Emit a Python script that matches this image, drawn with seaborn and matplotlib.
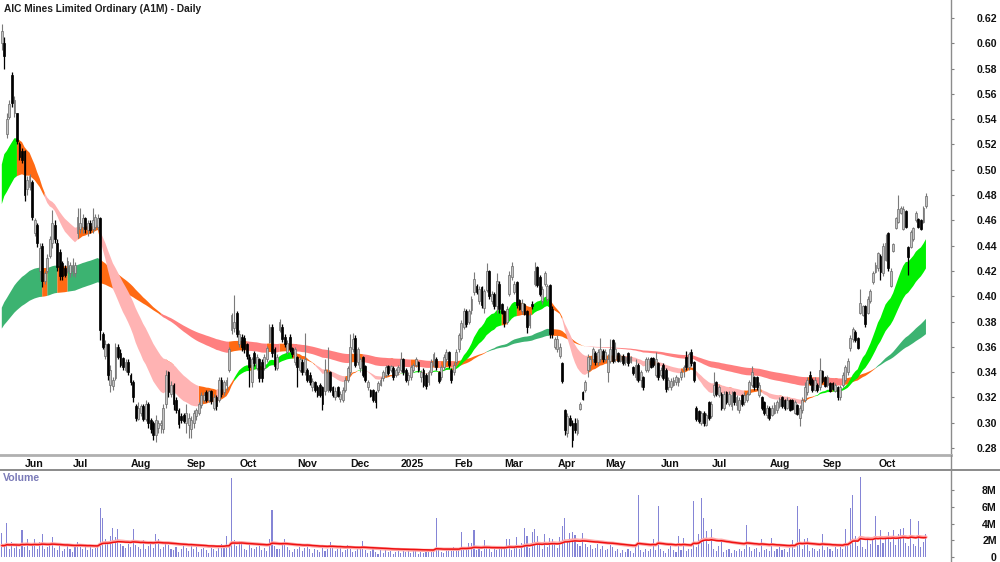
import numpy as np
import pandas as pd
import matplotlib
matplotlib.use("Agg")
import matplotlib.pyplot as plt
from matplotlib.lines import Line2D
import matplotlib.transforms as mtrans
import seaborn as sns

# ---------------- data (prices in cents, volume in 0.1M units) ----------------
TITLE = "AIC Mines Limited Ordinary (A1M) - Daily"
start_date = "2024-05-22"
asx_holidays = ["2024-06-10", "2024-12-25", "2024-12-26", "2025-01-01", "2025-01-27",
                "2025-04-18", "2025-04-21", "2025-04-25", "2025-06-09"]

open_c = [
    60, 60, 52.8, 54.2, 57.5, 54.5, 54.5, 52, 51.5, 51.5,
    48.5, 48.6, 49, 45, 45.6, 42, 44, 41.2, 42, 43.2,
    44.2, 45.6, 44.2, 43.5, 42.6, 42.2, 42, 41.8, 42, 41.8,
    45, 45.3, 45.5, 46.2, 45.2, 45.8, 45.3, 45.5, 45.5, 46.2,
    37, 35.3, 36.2, 33, 32.9, 33.5, 36, 35.5, 35.1, 34.2,
    34.8, 33.8, 33.2, 31.3, 30.3, 30.8, 31.3, 30.3, 31.5, 30.2,
    30, 29, 29.6, 29.8, 29.5, 31.5, 34, 32.3, 33, 31.8,
    31, 30.5, 30.6, 30, 29.8, 29.5, 30, 30.5, 30.8, 31.4,
    31.8, 32.4, 31.8, 32.5, 31.2, 32, 31.8, 33.4, 32.4, 33,
    34.2, 37.3, 37.5, 38.7, 36.2, 36.8, 36.7, 36.2, 35.2, 33.2,
    35.5, 34.3, 35, 34.8, 34.3, 35, 36.4, 37.6, 35.8, 34.3,
    37.3, 37.6, 36.8, 35.6, 36.8, 35.9, 34.8, 35.2, 34.2, 34.8,
    34, 34.2, 33.8, 32.8, 33.2, 32.8, 33, 32.8, 32.5, 32.6,
    34, 32.8, 32, 32.8, 31.9, 31.8, 32.6, 33.4, 34, 35.8,
    36.7, 34.8, 34.3, 35.2, 34.5, 32.8, 32.6, 32.6, 32.4, 32.6,
    33, 33.5, 33.8, 34.5, 34.2, 34.3, 33.8, 34, 34.2, 35,
    34.2, 33.4, 33.6, 34.2, 34.6, 34.8, 33.6, 34.2, 33.8, 33.2,
    34, 34.6, 35, 34, 33.6, 34.4, 35, 35.6, 34.2, 34,
    34.8, 35.8, 36.7, 37.6, 38.8, 38, 38.9, 40.3, 40.8, 39.6,
    40.7, 39.1, 40.5, 42, 39.6, 40.2, 39.2, 41, 39.4, 38.8,
    38, 40.2, 41.5, 40.3, 41.1, 39.7, 38.8, 39.4, 38.8, 37.7,
    39.4, 41, 42.3, 41.5, 39.6, 41, 39.8, 40.9, 39, 36,
    35.8, 35.3, 34.7, 31, 29.2, 30.4, 30, 30, 29.2, 31.1,
    32.4, 32.6, 34.2, 34.6, 35, 35.5, 34.8, 35, 35.7, 35,
    34, 34.9, 36.5, 35, 35.5, 34.9, 35.3, 34.8, 35.5, 34.8,
    34.4, 33.6, 34.6, 33.4, 33.6, 34.2, 34.2, 35.1, 35.1, 33.8,
    34.7, 33.8, 34.6, 34.2, 32.8, 32.8, 33, 33.2, 33.2, 33.6,
    34.2, 35.2, 34.4, 35.6, 34.8, 31.2, 30.9, 30, 30.8, 29.8,
    31.6, 30.5, 32.2, 33.2, 32.2, 32.3, 31.2, 32.4, 31.5, 31.3,
    32.4, 31.4, 31, 32.2, 31.6, 31.8, 32.3, 33, 33.6, 33.6,
    32.2, 32, 31.6, 30.6, 31.2, 30.6, 30.8, 31, 31.3, 32,
    31.8, 31.2, 31.8, 31.8, 30.8, 31.4, 30.4, 31, 31.8, 32.4,
    33.8, 33.4, 32.6, 33, 32.8, 34.1, 33.6, 33, 33.1, 33.1,
    32.5, 32.8, 32, 33, 33.4, 34, 35.9, 36.6, 37.2, 36.7,
    38.7, 38.5, 39.2, 38.7, 39.6, 41.1, 41.9, 42.2, 43.2, 41.8,
    42.9, 45, 40.8, 43.6, 45.4, 45.9, 46.6, 45.3, 46.7, 43.9,
    43.9, 44.5, 46, 46.1, 46, 45.9, 47.1,
]
high_c = [
    61.5, 60.5, 54.5, 55.5, 57.7, 55.8, 54.5, 52.2, 51.7, 51.6,
    49.5, 49.7, 49.2, 46.2, 45.8, 44.2, 44.2, 42, 43.3, 44.8,
    46.8, 46, 44.5, 43.7, 42.8, 42.5, 43.1, 42.7, 43, 42.7,
    47, 47, 46.5, 46.3, 46, 46, 47, 46.5, 46.5, 46.3,
    37.2, 36.5, 36.3, 34.6, 33.6, 36.3, 36.2, 35.8, 35.2, 35,
    35, 33.9, 33.4, 31.5, 31.6, 31.5, 31.5, 31.8, 31.6, 30.4,
    30.1, 30.6, 30.2, 30.2, 31.5, 34.2, 34.1, 33.3, 33.1, 32,
    31.2, 30.8, 30.8, 31.5, 30.8, 30.5, 31, 31.2, 31.6, 32.4,
    32.4, 32.6, 32.6, 32.6, 32.3, 32.2, 33.6, 33.6, 33.4, 33.6,
    36, 38.7, 40.1, 38.8, 37.3, 37, 36.9, 36.3, 35.4, 35.2,
    35.7, 35.4, 35.1, 35, 35.4, 36.1, 37.8, 37.8, 36, 35.4,
    38.2, 37.8, 37, 36.5, 37, 36, 36, 35.3, 35.2, 35,
    37.1, 34.3, 34, 33.5, 33.3, 33, 33.1, 32.9, 35, 36,
    34.1, 32.9, 32.8, 32.9, 32.5, 32.8, 33.6, 34.5, 37, 37.1,
    36.9, 36, 35.2, 35.3, 34.6, 33.4, 32.7, 32.7, 32.5, 33.3,
    33.6, 34.2, 34.6, 34.6, 34.6, 34.5, 34.3, 34.6, 35.6, 35.1,
    34.3, 34, 34.6, 34.7, 35.2, 34.9, 34.2, 34.3, 33.9, 34.2,
    35, 35.6, 35.2, 34.1, 34.6, 35.4, 35.8, 35.7, 34.3, 34.8,
    35.8, 37.1, 38.1, 39.1, 39, 39, 40, 41.9, 41, 40.8,
    40.8, 40.6, 42.6, 42.1, 40.4, 40.3, 41.8, 41.2, 39.5, 38.9,
    39.2, 42, 42.7, 41.2, 41.2, 39.8, 39.8, 39.5, 38.9, 38.7,
    39.6, 42.7, 42.4, 41.7, 40.8, 42, 41, 41, 39.2, 36.8,
    36.9, 36.3, 34.8, 31.1, 30.8, 30.6, 30.2, 30.4, 30.4, 31.6,
    32.5, 33.4, 35.4, 35.3, 36, 35.7, 35.8, 36.7, 35.8, 35.8,
    35.4, 36.6, 36.6, 36.4, 35.6, 35.4, 35.4, 35.3, 35.6, 35.3,
    34.5, 35, 34.7, 34.2, 33.7, 35.2, 35.2, 35.2, 35.2, 35.6,
    34.8, 34.4, 34.7, 34.3, 33.6, 33.5, 33.6, 33.8, 33.6, 34.2,
    34.6, 35.7, 35.6, 35.8, 34.9, 31.3, 31, 30.9, 30.9, 30.8,
    31.7, 31.7, 34, 33.3, 33, 32.4, 32.5, 32.5, 32.5, 32.5,
    32.5, 32.2, 32, 32.3, 32.4, 32.4, 33.4, 34.5, 33.7, 33.7,
    33.2, 32.1, 31.7, 31.4, 31.3, 31.4, 31.6, 31.8, 32, 32.1,
    31.9, 32, 31.9, 31.9, 31.8, 31.5, 31.4, 32, 33.2, 33.6,
    34.1, 33.5, 33.6, 33.1, 35.1, 34.2, 33.7, 33.8, 33.2, 33.2,
    33.1, 32.9, 33, 34, 34.6, 35.1, 36.9, 37.6, 37.3, 36.8,
    40.6, 39.3, 39.3, 40, 40.6, 42, 42.7, 43.5, 43.3, 44.2,
    44.9, 45.1, 42.2, 44.2, 46.3, 48, 47.1, 47.1, 46.8, 44,
    45.2, 45.5, 46.7, 46.2, 46.1, 47.1, 48.2,
]
low_c = [
    59.5, 58, 52.5, 54, 55, 54.2, 52, 50.8, 50.5, 47.5,
    48, 48.4, 46, 44.8, 43.9, 41.3, 40.7, 41, 41.8, 43,
    43.8, 44.2, 42, 41.3, 41.3, 41.5, 41.8, 41.5, 41.6, 41.5,
    44.6, 45, 45, 45, 44.8, 45, 45, 45.2, 45.2, 36.5,
    35.8, 35, 33.4, 32.4, 32.6, 33.4, 35, 34.4, 34.2, 34,
    33.8, 33, 31.6, 30.1, 30.2, 30.5, 30.1, 30.1, 29.6, 29.2,
    28.6, 28.5, 29.2, 29.2, 29.2, 31.2, 32, 32, 31, 30.8,
    29.6, 30, 30, 29.2, 28.8, 28.8, 29.6, 30.2, 30.6, 31.2,
    31.6, 31.6, 31.6, 31.5, 31, 31, 31.6, 32, 32.2, 32.6,
    34, 37, 37.2, 36.8, 36, 35.7, 35.5, 35, 32.8, 32.8,
    34.5, 34.2, 33.2, 33.2, 34.2, 34.8, 36.3, 35.2, 34.2, 34.2,
    37.2, 36.4, 36, 35.4, 35.6, 35.2, 34.6, 32.8, 34, 33.8,
    33.8, 33.2, 33, 32.5, 32.4, 32, 32, 31, 32.2, 32.4,
    32.4, 32, 31.8, 32, 31.6, 31.6, 32.4, 33.2, 33.8, 35.6,
    34.4, 34.6, 34, 33.6, 33.2, 32.6, 32, 31.6, 31.2, 32.4,
    32.9, 33.3, 33.6, 33.8, 34, 33.4, 33.6, 33.8, 34, 33.8,
    33.2, 33, 33.4, 34, 34.4, 34, 33.2, 32.8, 32.7, 33,
    33.8, 34.4, 34.2, 33.1, 33.4, 34.2, 34.8, 34.3, 33.1, 33.8,
    34.6, 35.6, 36.5, 37.4, 37.6, 37.8, 38.6, 40.1, 40.2, 39.4,
    39.1, 38.7, 40.3, 39.8, 39.4, 39, 38.7, 38.7, 38.6, 37.6,
    37.8, 40, 41.3, 40.2, 39.1, 38.9, 38.6, 38.5, 37.1, 37.5,
    39, 40.8, 40.7, 40, 39.4, 40.8, 39.6, 36.7, 36.7, 35.8,
    35.6, 35.1, 33.1, 29, 28.9, 29.7, 28.1, 29.2, 29, 31,
    31.8, 32.4, 33.6, 34.2, 34.8, 34.6, 34.6, 34.8, 34.8, 34.9,
    33.2, 34.7, 34.7, 34.8, 34.8, 34.8, 34.6, 34.6, 34.5, 34.7,
    33.8, 33.4, 33.2, 32.8, 32.6, 34, 34, 34.3, 34.4, 33.6,
    33.4, 33.6, 33.4, 32.4, 32.6, 32.6, 32.9, 33, 32.9, 33.4,
    33.6, 34.2, 34.2, 34.5, 33.2, 30.1, 30, 29.8, 29.7, 29.7,
    30.2, 30.4, 32, 32.1, 32, 31, 31, 31.5, 31.3, 31,
    31.4, 31, 30.8, 31.3, 31.4, 31.6, 32.2, 32.8, 32.6, 32.6,
    32, 31, 30.6, 30.4, 30.2, 30.5, 30.7, 30.8, 31.2, 31.2,
    31, 31.1, 30.9, 31, 30.7, 30.6, 29.7, 30.8, 31.6, 32.2,
    33, 32.4, 32.5, 32.4, 32.6, 33.1, 32.8, 32.8, 32.4, 32.6,
    32.4, 31.8, 31.8, 32.8, 33.2, 33.8, 35.7, 36.4, 36.4, 35.8,
    38.6, 38.4, 37.6, 38.6, 39.5, 41, 41.8, 42, 41.3, 41.6,
    42.8, 42, 40.7, 43.5, 45.3, 45.8, 46.5, 45.2, 45.4, 41.7,
    43.8, 44.4, 45.9, 45.4, 45.2, 45.8, 47,
]
close_c = [
    61, 59, 54, 55.2, 55.3, 55.5, 52.3, 51, 50.8, 48,
    49.2, 49.5, 46.3, 46, 44.2, 43.8, 41.2, 41.8, 43, 44.5,
    45.8, 44.5, 42.3, 41.6, 41.6, 41.7, 42.8, 42.5, 42.5, 42.5,
    46.3, 45.8, 46.2, 45.3, 45.8, 45.2, 46, 46.3, 46.2, 37.3,
    36, 36.2, 33.8, 34.2, 33.4, 36, 35.2, 34.6, 34.4, 34.8,
    34, 33.2, 32, 30.4, 31.2, 31.3, 30.3, 31.5, 30, 29.5,
    29, 30.2, 30, 30, 31.2, 33.8, 32.4, 33, 31.5, 31,
    29.9, 30.2, 30.1, 30.8, 30.4, 30.2, 30.8, 31, 31.5, 32.2,
    32.2, 31.8, 32.5, 31.7, 32, 31.3, 33.4, 32.3, 33.2, 33.4,
    35.8, 38.5, 38, 37, 37, 36, 35.8, 35.3, 34.4, 35,
    34.7, 35.2, 33.5, 33.5, 35.2, 35.9, 37.6, 35.5, 34.5, 35.2,
    38, 36.6, 36.2, 36.3, 35.8, 35.4, 35.8, 34.4, 35, 34,
    35, 33.4, 33.2, 33.3, 32.6, 32.2, 32.2, 31.5, 34.2, 34,
    32.6, 32.2, 32.5, 32.1, 32.3, 32.6, 33.4, 34.3, 36, 36.6,
    34.6, 35.8, 35, 33.8, 33.4, 33.2, 32.1, 31.8, 31.6, 33.1,
    33.4, 34, 34.4, 33.9, 34.5, 33.6, 34.2, 34.4, 35, 34,
    33.4, 33.8, 34.4, 34.6, 35, 34.2, 34, 33, 32.9, 34,
    34.8, 35.4, 34.4, 33.3, 34.4, 35.2, 35.6, 34.6, 33.4, 34.6,
    35.6, 36.9, 37.9, 38.8, 37.8, 38.8, 39.8, 41.4, 40.3, 40.6,
    39.3, 40.4, 42, 40, 40.2, 39.2, 41.2, 39, 38.7, 37.9,
    39, 41.7, 42.4, 41, 39.3, 39, 39.5, 38.6, 37.6, 38.5,
    39.2, 42, 40.9, 40.2, 40.6, 41.8, 40.8, 37, 37, 36.6,
    36.6, 36, 33.3, 29.4, 30.5, 29.8, 28.6, 29.4, 30.2, 31.5,
    31.9, 33.2, 35.2, 35, 35.8, 34.8, 35.6, 35.8, 35, 35.6,
    35, 35.8, 34.9, 35.8, 34.9, 35.3, 34.7, 35.2, 34.7, 35.2,
    33.9, 34.6, 33.4, 34, 32.8, 35, 35, 34.4, 34.6, 35,
    33.6, 34.2, 33.5, 32.7, 33.4, 33.3, 33.4, 33.6, 33.5, 34,
    34.4, 34.4, 35.4, 34.7, 33.4, 30.3, 30.1, 30.8, 30, 30.6,
    30.4, 31.5, 33, 32.3, 32.8, 31.2, 32.3, 31.6, 32.3, 32.2,
    31.6, 32, 31.8, 31.5, 32.2, 32.3, 33.2, 34, 32.8, 32.8,
    33, 31.2, 30.8, 31.2, 30.4, 31.2, 31.4, 31.6, 31.9, 31.3,
    31.2, 31.8, 31, 31.1, 31.6, 30.7, 31.2, 31.8, 32.8, 33.4,
    33.1, 32.6, 33.4, 32.6, 34.2, 33.3, 32.9, 33.6, 32.5, 32.7,
    33, 32, 32.8, 33.8, 34.4, 34.9, 36.7, 37.4, 36.5, 35.9,
    39.5, 39.2, 37.8, 39.8, 40.4, 41.8, 42.5, 43.4, 41.9, 44,
    44.2, 42.2, 42, 44.1, 46.2, 46.9, 47, 46.9, 45.5, 43.1,
    45.1, 45.4, 46.6, 45.5, 45.3, 47, 47.9,
]
volume_tenth_m = [
    29, 12, 41, 9, 18, 11, 14, 10, 32, 12,
    21, 8, 13, 22, 10, 18, 27, 9, 12, 16,
    24, 11, 8, 13, 7, 10, 14, 9, 6, 12,
    18, 15, 10, 12, 8, 14, 9, 11, 13, 58,
    46, 21, 17, 25, 35, 24, 33, 15, 13, 11,
    16, 12, 33, 14, 12, 10, 20, 9, 13, 19,
    11, 27, 22, 9, 12, 16, 14, 10, 8, 12,
    6, 9, 14, 11, 7, 15, 10, 12, 6, 9,
    11, 8, 5, 13, 10, 7, 12, 15, 11, 25,
    14, 94, 20, 13, 19, 19, 10, 8, 14, 11,
    9, 12, 13, 8, 11, 7, 21, 56, 13, 10,
    9, 16, 21, 12, 8, 6, 10, 9, 12, 7,
    11, 16, 9, 5, 10, 8, 6, 12, 7, 10,
    18, 11, 7, 9, 12, 6, 8, 14, 10, 6,
    7, 9, 11, 19, 8, 5, 7, 10, 6, 4,
    8, 5, 9, 6, 7, 4, 6, 9, 5, 7,
    6, 8, 5, 10, 7, 4, 6, 5, 8, 9,
    6, 7, 47, 8, 6, 5, 9, 10, 7, 12,
    9, 8, 30, 11, 9, 17, 17, 32, 8, 10,
    7, 20, 12, 9, 6, 11, 8, 13, 9, 10,
    22, 22, 8, 12, 24, 10, 17, 35, 25, 11,
    30, 34, 25, 14, 9, 27, 12, 23, 21, 15,
    11, 24, 37, 47, 20, 29, 30, 26, 15, 13,
    29, 16, 12, 14, 9, 11, 15, 10, 13, 8,
    9, 14, 12, 7, 10, 5, 8, 6, 9, 7,
    5, 13, 74, 8, 6, 9, 7, 10, 21, 8,
    61, 10, 7, 5, 9, 14, 8, 6, 25, 8,
    23, 7, 10, 9, 67, 12, 27, 71, 46, 31,
    15, 34, 9, 7, 13, 21, 6, 8, 10, 5,
    8, 7, 10, 7, 9, 38, 12, 7, 9, 11,
    6, 22, 8, 10, 7, 23, 7, 9, 12, 8,
    10, 6, 11, 20, 9, 61, 34, 10, 21, 23,
    7, 11, 9, 7, 10, 27, 8, 12, 10, 7,
    12, 9, 14, 10, 34, 16, 59, 74, 25, 13,
    95, 12, 10, 24, 16, 23, 49, 14, 32, 17,
    25, 30, 18, 32, 14, 28, 33, 35, 17, 13,
    45, 16, 13, 43, 12, 18, 27,
]

# moving-average groups (periods) and their starting values (cents)
short_periods = [20, 23, 26, 29, 32, 36]
short_seed_c = [49.3, 48.8, 48.3, 47.7, 47.1, 46.5]
long_periods = [90, 100, 110, 120, 130, 140]
long_seed_c = [38.6, 38.3, 38.0, 37.7, 37.4, 37.1]
vol_ma_seed_m = 1.3

price_ticks = [0.28, 0.30, 0.32, 0.34, 0.36, 0.38, 0.40, 0.42, 0.44, 0.46, 0.48,
               0.50, 0.52, 0.54, 0.56, 0.58, 0.60, 0.62]
vol_ticks = [0, 2, 4, 6, 8]
vol_tick_labels = ["0", "2M", "4M", "6M", "8M"]

# ---------------- preparation ----------------
n = min(len(open_c), len(high_c), len(low_c), len(close_c), len(volume_tenth_m))
o = np.array(open_c[:n]) / 100
h = np.array(high_c[:n]) / 100
l = np.array(low_c[:n]) / 100
c = np.array(close_c[:n]) / 100
vol = np.array(volume_tenth_m[:n]) / 10.0
idx = np.arange(n)
dates = pd.bdate_range(start=start_date, periods=n, freq="C", holidays=asx_holidays)


def seeded_ema(values, period, seed):
    alpha = 2.0 / (period + 1)
    out = np.empty(len(values))
    prev = seed
    for i, v in enumerate(values):
        prev = prev + alpha * (v - prev)
        out[i] = prev
    return out


short_seeds = np.array(short_seed_c) / 100
long_seeds = np.array(long_seed_c) / 100
short_emas = np.vstack([seeded_ema(c, p, s) for p, s in zip(short_periods, short_seeds)])
long_emas = np.vstack([seeded_ema(c, p, s) for p, s in zip(long_periods, long_seeds)])
vol_ma_red = seeded_ema(vol, 50, vol_ma_seed_m)
vol_ma_pink = seeded_ema(vol, 40, vol_ma_seed_m)


def band_state(emas, seeds):
    """0 = fastest above slowest and rising, 2 = below and falling, 1 = mixed."""
    fast, slow = emas[0], emas[-1]
    fast_prev = np.r_[seeds[0], fast[:-1]]
    rising = fast > fast_prev
    above = fast > slow
    return np.where(above & rising, 0, np.where(~above & ~rising, 2, 1))


# ---------------- figure ----------------
sns.set_theme(style="white")
plt.rcParams["font.family"] = ["Liberation Sans", "DejaVu Sans"]

W, H = 1000, 562
fig = plt.figure(figsize=(W / 100, H / 100), dpi=100)
fig.patch.set_facecolor("white")
RX = 951
PX0, PXS = 1.8, 2.525
ax = fig.add_axes([0, 1 - 455 / H, RX / W, 455 / H])
axv = fig.add_axes([0, 0, RX / W, (562 - 469) / H])
xl = (0 - PX0) / PXS
xr = (RX - PX0) / PXS
for a in (ax, axv):
    a.set_xlim(xl, xr)
    a.set_facecolor("white")
    a.grid(False)

ppx = 0.02 / 25.294
ax.set_ylim(0.62 - (455 - 18) * ppx, 0.62 + 18 * ppx)
vpx = 8 / 67.0
axv.set_ylim(-5 * vpx, (557 - 469) * vpx)


def draw_band(a, emas, state, colors, z):
    lo = emas.min(axis=0)
    hi = emas.max(axis=0)
    for s, col in enumerate(colors):
        m = state == s
        m_ext = m | np.r_[False, m[:-1]]
        a.fill_between(idx, lo, hi, where=m_ext, color=col, linewidth=0, zorder=z)


draw_band(ax, long_emas, band_state(long_emas, long_seeds),
          ["#3cb371", "#ff6a13", "#ff7f7f"], 1)
draw_band(ax, short_emas, band_state(short_emas, short_seeds),
          ["#00f000", "#ff6a13", "#ffb3b3"], 2)

up = c >= o
ax.vlines(idx[up], l[up], h[up], color="#7a7a7a", linewidth=0.8, zorder=3)
ax.vlines(idx[~up], l[~up], h[~up], color="black", linewidth=0.9, zorder=3)
body = np.maximum(np.abs(c - o), 0.0008)
ax.bar(idx[up], body[up], bottom=o[up], width=0.72, color="#c4c4c4",
       edgecolor="#6a6a6a", linewidth=0.5, zorder=4)
ax.bar(idx[~up], body[~up], bottom=np.minimum(o, c)[~up], width=0.72, color="black",
       edgecolor="black", linewidth=0.5, zorder=4)

# volume
axv.bar(idx, vol, width=0.42, color="#8585d6", linewidth=0, zorder=2)
sns.lineplot(x=idx, y=vol_ma_pink, ax=axv, color="#ffa8a8", linewidth=2.4, zorder=3,
             legend=False, errorbar=None)
sns.lineplot(x=idx, y=vol_ma_red, ax=axv, color="#ee1111", linewidth=1.1, zorder=4,
             legend=False, errorbar=None)
axv.set_xlabel("")
axv.set_ylabel("")

# month ticks
periods = dates.to_period("M")
mpos, mlab = [], []
for i in range(1, n):
    if periods[i] != periods[i - 1]:
        mpos.append(i)
        mlab.append(str(dates[i].year) if dates[i].month == 1 else dates[i].strftime("%b"))
ax.set_xticks(mpos)
ax.set_xticklabels(mlab)
ax.tick_params(axis="x", direction="out", length=2, width=0.8, color="#999999", pad=1.2,
               labelsize=7.6, labelcolor="#111111")
off = mtrans.ScaledTranslation(2 / 72, 0, fig.dpi_scale_trans)
for lbl in ax.get_xticklabels():
    lbl.set_ha("left")
    lbl.set_fontweight("bold")
    lbl.set_transform(lbl.get_transform() + off)

# right price axis
ax.yaxis.tick_right()
ax.set_yticks(price_ticks)
ax.set_yticklabels([f"{t:.2f}" for t in price_ticks])
ax.tick_params(axis="y", direction="out", length=2.2, width=0.8, color="#808080", pad=30.8,
               labelsize=7.6, labelcolor="#111111")
for lbl in ax.get_yticklabels():
    lbl.set_ha("right")
    lbl.set_fontweight("bold")

axv.yaxis.tick_right()
axv.set_yticks(vol_ticks)
axv.set_yticklabels(vol_tick_labels)
axv.set_xticks([])
axv.tick_params(axis="y", direction="out", length=2.2, width=0.8, color="#808080", pad=30.8,
                labelsize=7.6, labelcolor="#111111")
for lbl in axv.get_yticklabels():
    lbl.set_ha("right")
    lbl.set_fontweight("bold")

for a in (ax, axv):
    for s in ("top", "left"):
        a.spines[s].set_visible(False)
    a.spines["right"].set_color("#8c8c8c")
    a.spines["right"].set_linewidth(1.0)
ax.spines["bottom"].set_color("#b0b0b0")
ax.spines["bottom"].set_linewidth(2.0)
axv.spines["bottom"].set_visible(False)

# separators
fig.add_artist(Line2D([0, 1], [1 - 469.5 / H] * 2, transform=fig.transFigure,
                      color="#8a8a8a", linewidth=1.4))
fig.add_artist(Line2D([RX / W] * 2, [1 - 470 / H, 1 - 455 / H], transform=fig.transFigure,
                      color="#8c8c8c", linewidth=1.0))

fig.text(4 / W, 1 - 9 / H, TITLE, ha="left", va="center", fontsize=7.3,
         fontweight="bold", color="#1e1e1e")
fig.text(3 / W, 1 - 478 / H, "Volume", ha="left", va="center", fontsize=7.6,
         fontweight="bold", color="#7b7bb8")

fig.savefig("out.png", dpi=100, facecolor="white")
